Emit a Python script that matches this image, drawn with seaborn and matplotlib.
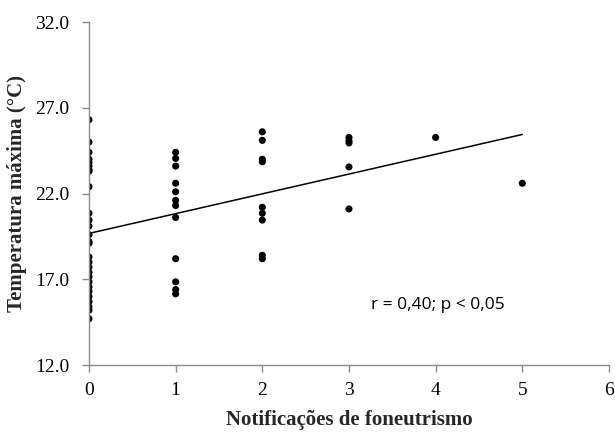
import numpy as np
import pandas as pd
import matplotlib
matplotlib.use("Agg")
import matplotlib.pyplot as plt
import seaborn as sns

# Data
notif_0 = [26.3, 25.0, 24.4, 24.0, 23.8, 23.6, 23.4, 23.3, 22.4, 20.85, 20.45, 20.1,
           19.6, 19.2, 19.1, 18.3, 18.0, 17.7, 17.4, 17.15, 16.85, 16.55, 16.3, 16.0,
           15.7, 15.4, 15.2, 14.7]
notif_1 = [24.4, 24.05, 23.6, 22.6, 22.1, 21.6, 21.3, 20.6, 18.2, 16.85, 16.4, 16.15]
notif_2 = [25.6, 25.1, 24.0, 23.85, 21.2, 20.85, 20.45, 18.4, 18.2]
notif_3 = [25.27, 25.07, 24.95, 23.55, 21.1]
notif_4 = [25.27]
notif_5 = [22.6]

groups = [notif_0, notif_1, notif_2, notif_3, notif_4, notif_5]
x_vals = []
y_vals = []
for k, g in enumerate(groups):
    x_vals += [k] * len(g)
    y_vals += g
df = pd.DataFrame({"notificacoes": x_vals, "temp": y_vals})

y_ticks = [12.0, 17.0, 22.0, 27.0, 32.0]
x_ticks = [0, 1, 2, 3, 4, 5, 6]
annotation = "r = 0,40; p < 0,05"

sns.set_theme(style="white")
plt.rcParams["font.family"] = ["Liberation Serif", "DejaVu Serif"]

fig = plt.figure(figsize=(6.15, 4.32), dpi=100)
ax = fig.add_axes([0.1447, 0.155, 0.8455, 0.794])

sns.regplot(data=df, x="notificacoes", y="temp", ax=ax, ci=None,
            scatter_kws=dict(s=26, color="black", edgecolor="none", alpha=1),
            line_kws=dict(color="black", lw=1.1))

ax.set_xlim(0, 6)
ax.set_ylim(12, 32)
ax.set_xticks(x_ticks)
ax.set_xticklabels([str(t) for t in x_ticks])
ax.set_yticks(y_ticks)
ax.set_yticklabels([f"{t:.1f}" for t in y_ticks])

for side in ["top", "right"]:
    ax.spines[side].set_visible(False)
for side in ["left", "bottom"]:
    ax.spines[side].set_color("#8c8c8c")
    ax.spines[side].set_linewidth(1.0)

ax.tick_params(axis="both", which="major", direction="out", length=5, width=1,
               color="#8c8c8c", labelsize=14, labelcolor="black")
ax.tick_params(axis="x", bottom=True, pad=7)
ax.tick_params(axis="y", left=True, pad=9)

ax.set_xlabel("Notificações de foneutrismo", fontsize=15, fontweight="bold", labelpad=8)
ax.set_ylabel("Temperatura máxima (°C)", fontsize=15, fontweight="bold", labelpad=6)

ax.text(3.25, 15.5, annotation, fontsize=12.5, family=["Open Sans", "DejaVu Sans"],
        color="black", va="center", ha="left")

fig.savefig("out.png", dpi=100)
